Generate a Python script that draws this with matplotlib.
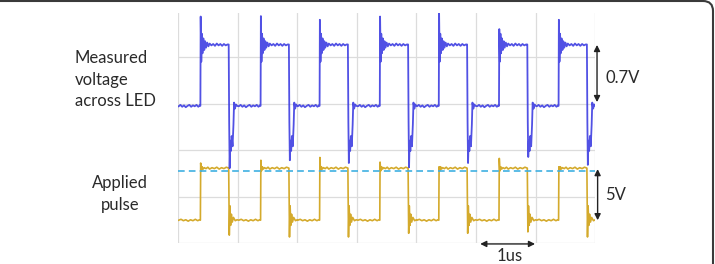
"""
Oscilloscope capture: LED voltage response to an applied pulse train
"""
import matplotlib
matplotlib.use("Agg")
import matplotlib.pyplot as plt
from matplotlib.patches import FancyBboxPatch

# time of each rising edge, in us (one grid division = 1 us)
rise_times = [0.38, 1.39, 2.38, 3.39, 4.38, 5.39, 6.39]

# measured voltage across LED (grid divisions), per period spikes
led_peaks = [4.87, 4.88, 4.80, 4.87, 4.95, 4.60, 4.80]
led_dips = [1.61, 1.78, 1.72, 1.63, 1.72, 1.85, 1.68]

# applied pulse (grid divisions), per period spikes
pulse_peaks = [1.72, 1.78, 1.84, 1.74, 1.64, 1.82, 1.64]
pulse_dips = [0.17, 0.13, 0.13, 0.21, 0.21, 0.24, 0.13]

# one period of the LED trace, time relative to the rising edge
led_dt = [-0.37, -0.34, -0.31, -0.28, -0.25, -0.22, -0.19, -0.16, -0.13, -0.10, -0.07, -0.04, -0.015, -0.005,
          0.0, 0.01, 0.02, 0.03, 0.045, 0.06, 0.075, 0.09, 0.11, 0.13, 0.15, 0.18,
          0.21, 0.24, 0.27, 0.30, 0.33, 0.36, 0.39, 0.42, 0.45, 0.47,
          0.478, 0.486, 0.496, 0.508, 0.52, 0.535, 0.55, 0.56, 0.575, 0.59, 0.61]
led_v = [2.94, 2.97, 2.93, 2.96, 2.92, 2.95, 2.97, 2.93, 2.96, 2.94, 2.97, 2.93, 2.96, 2.95,
         None, 3.90, 4.50, 4.08, 4.40, 4.15, 4.34, 4.20, 4.31, 4.23, 4.29, 4.25,
         4.28, 4.24, 4.29, 4.25, 4.28, 4.24, 4.28, 4.25, 4.27, 4.27,
         2.60, None, 2.20, 1.98, 2.30, 2.08, 2.55, 3.02, 2.89, 2.98, 2.95]

# one period of the applied pulse
pulse_dt = [-0.37, -0.33, -0.29, -0.25, -0.21, -0.17, -0.13, -0.09, -0.05, -0.02, -0.005,
            0.0, 0.01, 0.025, 0.04, 0.06, 0.09, 0.12, 0.15, 0.19, 0.23, 0.27, 0.31, 0.35,
            0.39, 0.43, 0.47,
            0.48, 0.49, 0.502, 0.515, 0.53, 0.55, 0.58, 0.61]
pulse_v = [0.49, 0.51, 0.48, 0.50, 0.47, 0.50, 0.48, 0.51, 0.48, 0.50, 0.49,
           None, 1.55, 1.64, 1.59, 1.62, 1.60, 1.63, 1.59, 1.62, 1.60, 1.63, 1.59, 1.62,
           1.60, 1.63, 1.61,
           None, 0.80, 0.38, 0.62, 0.45, 0.55, 0.48, 0.50]

threshold_level = 1.55


def build_trace(rises, dt, shape, peaks, dips):
    """Repeat the one-period shape at each edge, filling in that period's spikes"""
    slots = [i for i, v in enumerate(shape) if v is None]
    t, v = [], []
    for k, r in enumerate(rises):
        vals = list(shape)
        vals[slots[0]] = peaks[k]
        vals[slots[1]] = dips[k]
        t += [r + d for d in dt]
        v += vals
    return t, v


def px(x, y):
    # pixel position on the 715x264 canvas -> figure fraction
    return x / 715, 1 - y / 264


def main():
    plt.rcParams['font.family'] = ['Lato', 'DejaVu Sans']
    fig = plt.figure(figsize=(7.15, 2.64), dpi=100)
    fig.patch.set_facecolor('white')

    ax = fig.add_axes([0.249, 0.0795, 0.5835, 0.8719])
    ax.set_xlim(0, 7)
    ax.set_ylim(0, 4.95)
    ax.set_xticks(range(0, 8))
    ax.set_yticks(range(0, 5))
    ax.tick_params(length=0, labelbottom=False, labelleft=False)
    for s in ax.spines.values():
        s.set_visible(False)
    ax.grid(True, color='#dcdcdc', lw=0.9)
    ax.set_axisbelow(True)

    t1, v1 = build_trace(rise_times, led_dt, led_v, led_peaks, led_dips)
    t2, v2 = build_trace(rise_times, pulse_dt, pulse_v, pulse_peaks, pulse_dips)

    ax.plot(t2, v2, color='#d4aa2c', lw=1.2, solid_joinstyle='round')
    ax.axhline(threshold_level, color='#3fb0e2', lw=1.2, ls=(0, (4, 2.5)))
    ax.plot(t1, v1, color='#3333e0', lw=1.3, alpha=0.85, solid_joinstyle='round')

    arrow = dict(arrowstyle='<|-|>', color='#222222', lw=1.0, mutation_scale=9, shrinkA=0, shrinkB=0)
    ax.annotate('', xy=(7.03, 4.26), xytext=(7.03, 3.03), arrowprops=arrow, annotation_clip=False)
    ax.annotate('', xy=(7.04, 1.59), xytext=(7.04, 0.49), arrowprops=arrow, annotation_clip=False)
    ax.annotate('', xy=(5.07, -0.02), xytext=(5.99, -0.02), arrowprops=arrow, annotation_clip=False)

    txt = dict(fontsize=12, color='#2a2a2a', va='center')
    fig.text(*px(75, 58), 'Measured', ha='left', **txt)
    fig.text(*px(75, 80), 'voltage', ha='left', **txt)
    fig.text(*px(75, 101), 'across LED', ha='left', **txt)
    fig.text(*px(120, 183), 'Applied', ha='center', **txt)
    fig.text(*px(120, 205), 'pulse', ha='center', **txt)
    fig.text(*px(605, 78), '0.7V', ha='left', **txt)
    fig.text(*px(605, 195), '5V', ha='left', **txt)
    fig.text(*px(510, 256), '1us', ha='center', **txt)

    # rounded panel border, only top and right edges fall inside the crop
    frame = FancyBboxPatch((-0.5, -0.5), 7.63, 3.13, boxstyle='round,pad=0,rounding_size=0.1',
                           transform=fig.dpi_scale_trans, fill=False, ec='#3a3a3a', lw=1.5)
    fig.add_artist(frame)

    fig.savefig('out.png', dpi=100)


if __name__ == "__main__":
    main()
